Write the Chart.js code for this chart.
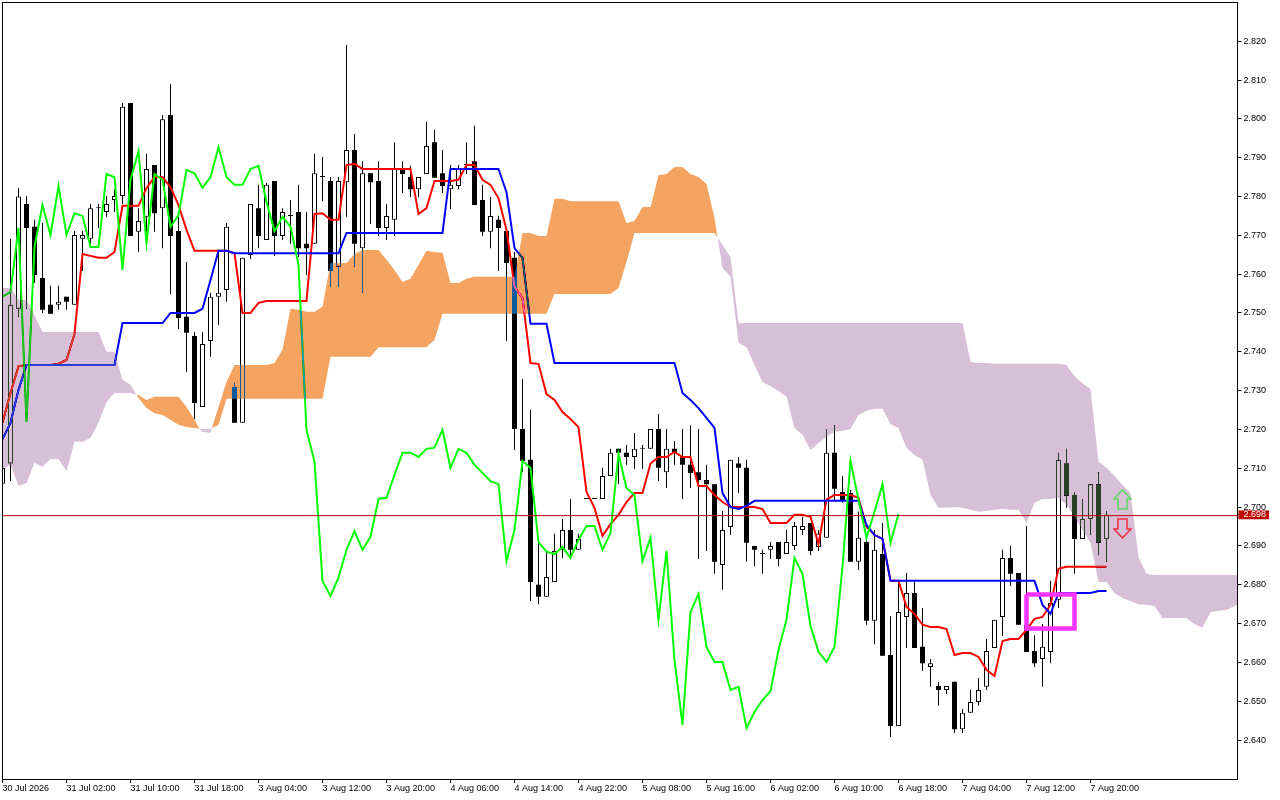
<!DOCTYPE html>
<html>
<head>
<meta charset="utf-8">
<style>
  html, body { margin: 0; padding: 0; background: #fff; }
  canvas { display: block; }
</style>
<script src="https://cdn.jsdelivr.net/npm/chart.js@4"></script>
</head>
<body>
<canvas id="chart-area" width="1280" height="800"></canvas>
<script>
const xLabels = ['30 Jul 2026','31 Jul 02:00','31 Jul 10:00','31 Jul 18:00','3 Aug 04:00','3 Aug 12:00','3 Aug 20:00','4 Aug 06:00','4 Aug 14:00','4 Aug 22:00','5 Aug 08:00','5 Aug 16:00','6 Aug 02:00','6 Aug 10:00','6 Aug 18:00','7 Aug 04:00','7 Aug 12:00','7 Aug 20:00'];
const yTicks = [2.82,2.81,2.80,2.79,2.78,2.77,2.76,2.75,2.74,2.73,2.72,2.71,2.70,2.69,2.68,2.67,2.66,2.65,2.64];
const lastPrice = 2.698;
const lastLine = 2.6978;

const opens = [
2.7060,2.7112,2.7511,2.7781,2.7722,2.7590,2.7521,2.7521,2.7542,2.7521,
2.7691,2.7691,2.7770,2.7760,2.7791,2.7801,2.8041,2.7709,2.7748,2.7881,
2.7770,2.8010,2.7711,2.7490,2.7441,2.7258,2.7428,2.7542,2.7559,2.7309,
2.7217,2.7649,2.7770,2.7688,2.7840,2.7698,2.7750,2.7760,2.7678,2.7678,
2.7850,2.7840,2.7619,2.7837,2.7920,2.7667,2.7860,2.7840,2.7719,2.7740,
2.7868,2.7850,2.7819,2.7858,2.7940,2.7860,2.7819,2.7827,2.7881,2.7891,
2.7791,2.7709,2.7740,2.7711,2.7642,2.7201,2.7122,2.6800,2.6769,2.6807,
2.6890,2.6941,2.6890,2.7021,2.7021,2.7021,2.7080,2.7150,2.7140,2.7129,
2.7150,2.7150,2.7201,2.7090,2.7150,2.7129,2.7109,2.7090,2.7070,2.7059,
2.6851,2.6949,2.7112,2.7101,2.6900,2.6879,2.6890,2.6910,2.6879,2.6900,
2.6941,2.6959,2.6897,2.6921,2.7140,2.7039,2.7036,2.6859,2.6910,2.6707,
2.6879,2.6619,2.6436,2.6717,2.6779,2.6640,2.6588,2.6539,2.6529,2.6550,
2.6428,2.6470,2.6498,2.6537,2.6637,2.6717,2.6869,2.6830,2.6697,2.6629,
2.6609,2.6627,2.6761,2.7112,2.7031,2.6918,2.6969,2.7059,2.6918];
const highs = [
2.7122,2.7691,2.7822,2.7801,2.7740,2.7732,2.7570,2.7570,2.7542,2.7711,
2.7711,2.7781,2.7781,2.7801,2.7819,2.8041,2.8041,2.7770,2.7910,2.7881,
2.8010,2.8090,2.7748,2.7631,2.7451,2.7451,2.7552,2.7662,2.7732,2.7320,
2.7642,2.7781,2.7830,2.7835,2.7840,2.7770,2.7791,2.7830,2.7760,2.7910,
2.7902,2.7850,2.7850,2.8190,2.7961,2.7891,2.7860,2.7891,2.7781,2.7940,
2.7891,2.7879,2.7850,2.7992,2.7971,2.7920,2.7881,2.7881,2.7940,2.7982,
2.7830,2.7799,2.7750,2.7719,2.7657,2.7330,2.7250,2.6908,2.6885,2.6931,
2.6969,2.7021,2.6931,2.7021,2.7021,2.7101,2.7150,2.7150,2.7160,2.7191,
2.7160,2.7201,2.7240,2.7201,2.7170,2.7201,2.7211,2.7201,2.7109,2.7059,
2.6990,2.7122,2.7129,2.7122,2.6900,2.6890,2.6910,2.6910,2.6941,2.6962,
2.6975,2.6959,2.6941,2.7201,2.7211,2.7080,2.7044,2.6988,2.6921,2.6941,
2.6959,2.6719,2.6810,2.6830,2.6810,2.6740,2.6609,2.6550,2.6539,2.6550,
2.6480,2.6529,2.6560,2.6660,2.6710,2.6890,2.6900,2.6830,2.6951,2.6670,
2.6699,2.6810,2.7140,2.7150,2.7039,2.7021,2.7059,2.7090,2.6990];
const lows = [
2.7060,2.7067,2.7490,2.7511,2.7577,2.7500,2.7498,2.7508,2.7508,2.7521,
2.7608,2.7670,2.7719,2.7748,2.7760,2.7781,2.7698,2.7657,2.7709,2.7709,
2.7667,2.7549,2.7459,2.7348,2.7227,2.7258,2.7387,2.7469,2.7529,2.7217,
2.7217,2.7639,2.7667,2.7688,2.7647,2.7688,2.7678,2.7644,2.7598,2.7678,
2.7788,2.7567,2.7567,2.7748,2.7619,2.7552,2.7729,2.7698,2.7688,2.7698,
2.7809,2.7799,2.7799,2.7858,2.7848,2.7809,2.7768,2.7819,2.7858,2.7778,
2.7698,2.7667,2.7608,2.7428,2.7147,2.7090,2.6758,2.6750,2.6769,2.6807,
2.6869,2.6874,2.6890,2.7021,2.7021,2.7021,2.7080,2.7059,2.7109,2.7098,
2.7098,2.7150,2.7067,2.7049,2.7109,2.7021,2.7049,2.6866,2.6887,2.6828,
2.6787,2.6928,2.7036,2.6859,2.6848,2.6828,2.6866,2.6848,2.6879,2.6890,
2.6928,2.6876,2.6887,2.6921,2.7016,2.7011,2.6859,2.6838,2.6697,2.6647,
2.6617,2.6408,2.6436,2.6637,2.6637,2.6578,2.6537,2.6488,2.6519,2.6418,
2.6418,2.6470,2.6488,2.6529,2.6637,2.6668,2.6797,2.6697,2.6627,2.6588,
2.6537,2.6598,2.6740,2.6998,2.6828,2.6918,2.6928,2.6876,2.6859];
const closes = [
2.7101,2.7521,2.7800,2.7719,2.7598,2.7508,2.7498,2.7529,2.7529,2.7701,
2.7701,2.7770,2.7771,2.7781,2.7801,2.8031,2.7698,2.7737,2.7871,2.7757,
2.7999,2.7698,2.7487,2.7449,2.7268,2.7420,2.7542,2.7552,2.7722,2.7217,
2.7642,2.7781,2.7698,2.7830,2.7698,2.7760,2.7750,2.7667,2.7667,2.7860,
2.7850,2.7608,2.7840,2.7920,2.7678,2.7860,2.7837,2.7719,2.7750,2.7871,
2.7858,2.7819,2.7850,2.7930,2.7848,2.7827,2.7830,2.7871,2.7881,2.7778,
2.7709,2.7750,2.7719,2.7629,2.7201,2.7119,2.6807,2.6769,2.6820,2.6887,
2.6941,2.6890,2.6918,2.7021,2.7021,2.7080,2.7140,2.7140,2.7129,2.7150,
2.7150,2.7201,2.7101,2.7150,2.7140,2.7109,2.7088,2.7070,2.7059,2.6859,
2.6941,2.7122,2.7101,2.6908,2.6890,2.6879,2.6900,2.6866,2.6910,2.6951,
2.6951,2.6887,2.6931,2.7140,2.7047,2.7016,2.6859,2.6921,2.6707,2.6890,
2.6617,2.6436,2.6730,2.6779,2.6637,2.6598,2.6598,2.6529,2.6539,2.6428,
2.6470,2.6498,2.6529,2.6629,2.6710,2.6869,2.6828,2.6697,2.6627,2.6598,
2.6640,2.6753,2.7122,2.7029,2.6918,2.6969,2.7059,2.6908,2.6980];

const tenkan = [
2.7217,2.7294,2.7363,2.7366,2.7366,2.7366,2.7366,2.7369,2.7379,2.7446,
2.7652,2.7647,2.7642,2.7642,2.7657,2.7776,2.7776,2.7776,2.7822,2.7850,
2.7850,2.7824,2.7778,2.7714,2.7660,2.7660,2.7660,2.7660,2.7660,2.7654,
2.7500,2.7500,2.7526,2.7531,2.7531,2.7531,2.7531,2.7531,2.7531,2.7755,
2.7757,2.7740,2.7740,2.7881,2.7884,2.7871,2.7871,2.7871,2.7871,2.7871,
2.7871,2.7871,2.7755,2.7770,2.7840,2.7840,2.7840,2.7843,2.7881,2.7881,
2.7843,2.7830,2.7796,2.7714,2.7567,2.7539,2.7371,2.7369,2.7291,2.7276,
2.7245,2.7227,2.7206,2.7039,2.6998,2.6926,2.6956,2.6980,2.7013,2.7036,
2.7036,2.7112,2.7129,2.7129,2.7142,2.7129,2.7129,2.7054,2.7054,2.7031,
2.7013,2.7000,2.7000,2.7000,2.7000,2.6995,2.6959,2.6959,2.6959,2.6980,
2.6980,2.6975,2.6905,2.7019,2.7031,2.7031,2.7031,2.7024,2.6949,2.6928,
2.6918,2.6810,2.6810,2.6743,2.6725,2.6697,2.6691,2.6691,2.6686,2.6619,
2.6624,2.6624,2.6614,2.6581,2.6565,2.6655,2.6660,2.6660,2.6684,2.6712,
2.6717,2.6748,2.6841,2.6846,2.6846,2.6846,2.6846,2.6846,2.6846];
const kijun = [
2.7175,2.7217,2.7302,2.7366,2.7366,2.7366,2.7366,2.7366,2.7366,2.7366,
2.7366,2.7366,2.7366,2.7366,2.7366,2.7474,2.7474,2.7474,2.7474,2.7474,
2.7474,2.7500,2.7500,2.7500,2.7500,2.7511,2.7585,2.7660,2.7660,2.7654,
2.7654,2.7654,2.7654,2.7654,2.7654,2.7654,2.7654,2.7654,2.7654,2.7654,
2.7654,2.7654,2.7654,2.7706,2.7706,2.7706,2.7706,2.7706,2.7706,2.7706,
2.7706,2.7706,2.7706,2.7706,2.7706,2.7706,2.7871,2.7871,2.7871,2.7871,
2.7871,2.7871,2.7871,2.7811,2.7667,2.7642,2.7472,2.7472,2.7472,2.7371,
2.7371,2.7371,2.7371,2.7371,2.7371,2.7371,2.7371,2.7371,2.7371,2.7371,
2.7371,2.7371,2.7371,2.7371,2.7371,2.7294,2.7276,2.7255,2.7230,2.7204,
2.7036,2.7000,2.6995,2.7003,2.7016,2.7016,2.7016,2.7016,2.7016,2.7016,
2.7016,2.7016,2.7016,2.7016,2.7016,2.7016,2.7016,2.7016,2.6954,2.6928,
2.6918,2.6810,2.6810,2.6810,2.6810,2.6810,2.6810,2.6810,2.6810,2.6810,
2.6810,2.6810,2.6810,2.6810,2.6810,2.6810,2.6810,2.6810,2.6810,2.6810,
2.6748,2.6725,2.6779,2.6779,2.6779,2.6779,2.6779,2.6784,2.6784];
const chikou = [
2.7542,2.7554,2.7719,2.7219,2.7670,2.7778,2.7701,2.7827,2.7701,2.7757,
2.7750,2.7670,2.7670,2.7858,2.7850,2.7611,2.7843,2.7917,2.7680,2.7858,
2.7843,2.7722,2.7752,2.7868,2.7860,2.7822,2.7850,2.7927,2.7850,2.7830,
2.7830,2.7871,2.7879,2.7786,2.7711,2.7748,2.7722,2.7624,2.7199,2.7117,
2.6810,2.6771,2.6818,2.6890,2.6938,2.6890,2.6923,2.7021,2.7024,2.7083,
2.7140,2.7140,2.7129,2.7150,2.7153,2.7199,2.7101,2.7150,2.7140,2.7109,
2.7088,2.7067,2.7059,2.6861,2.6941,2.7119,2.7101,2.6910,2.6885,2.6879,
2.6897,2.6869,2.6916,2.6951,2.6951,2.6890,2.6933,2.7137,2.7049,2.7031,
2.6861,2.6921,2.6710,2.6887,2.6606,2.6439,2.6730,2.6776,2.6640,2.6601,
2.6601,2.6529,2.6537,2.6431,2.6472,2.6503,2.6526,2.6632,2.6710,2.6869,
2.6828,2.6694,2.6627,2.6601,2.6640,2.6846,2.7119,2.7019,2.6921,2.6988,
2.7059,2.6908,2.6982];
const spanA = [
2.7096,2.7109,2.7054,2.7062,2.7114,2.7104,2.7124,2.7124,2.7093,2.7168,
2.7168,2.7178,2.7217,2.7271,2.7294,2.7294,2.7294,2.7289,2.7276,2.7284,
2.7284,2.7284,2.7284,2.7258,2.7225,2.7194,2.7191,2.7258,2.7322,2.7366,
2.7366,2.7366,2.7366,2.7366,2.7371,2.7405,2.7511,2.7508,2.7503,2.7503,
2.7516,2.7629,2.7629,2.7629,2.7652,2.7662,2.7662,2.7662,2.7637,2.7611,
2.7580,2.7588,2.7624,2.7660,2.7657,2.7655,2.7577,2.7577,2.7588,2.7593,
2.7593,2.7593,2.7593,2.7593,2.7593,2.7706,2.7706,2.7698,2.7698,2.7794,
2.7794,2.7788,2.7788,2.7788,2.7788,2.7788,2.7788,2.7788,2.7732,2.7737,
2.7773,2.7773,2.7855,2.7858,2.7876,2.7876,2.7858,2.7850,2.7832,2.7745,
2.7616,2.7593,2.7423,2.7412,2.7366,2.7322,2.7312,2.7299,2.7284,2.7204,
2.7186,2.7147,2.7165,2.7181,2.7194,2.7196,2.7201,2.7237,2.7248,2.7253,
2.7253,2.7214,2.7204,2.7153,2.7134,2.7122,2.7031,2.6998,2.6998,2.7000,
2.6998,2.6993,2.6988,2.6990,2.6993,2.6995,2.6993,2.6993,2.6959,2.7011,
2.7021,2.7021,2.7024,2.7006,2.6975,2.6941,2.6908,2.6807,2.6807,2.6779,
2.6766,2.6758,2.6750,2.6748,2.6745,2.6714,2.6714,2.6714,2.6714,2.6699,
2.6689,2.6730,2.6733,2.6735,2.6745,2.6753];
const spanB = [
2.7564,2.7564,2.7534,2.7534,2.7495,2.7451,2.7451,2.7451,2.7451,2.7451,
2.7451,2.7451,2.7451,2.7400,2.7400,2.7328,2.7315,2.7281,2.7255,2.7242,
2.7237,2.7225,2.7212,2.7206,2.7204,2.7201,2.7201,2.7212,2.7279,2.7279,
2.7279,2.7279,2.7279,2.7279,2.7279,2.7279,2.7279,2.7279,2.7279,2.7279,
2.7279,2.7387,2.7387,2.7387,2.7387,2.7387,2.7387,2.7412,2.7412,2.7412,
2.7412,2.7412,2.7412,2.7412,2.7431,2.7498,2.7498,2.7498,2.7498,2.7498,
2.7498,2.7498,2.7498,2.7498,2.7498,2.7498,2.7498,2.7498,2.7498,2.7549,
2.7549,2.7549,2.7549,2.7549,2.7549,2.7549,2.7549,2.7564,2.7631,2.7706,
2.7706,2.7706,2.7706,2.7706,2.7706,2.7706,2.7706,2.7706,2.7706,2.7706,
2.7675,2.7644,2.7474,2.7474,2.7474,2.7474,2.7474,2.7474,2.7474,2.7474,
2.7474,2.7474,2.7474,2.7474,2.7474,2.7474,2.7474,2.7474,2.7474,2.7474,
2.7474,2.7474,2.7474,2.7474,2.7474,2.7474,2.7474,2.7474,2.7474,2.7474,
2.7474,2.7374,2.7371,2.7371,2.7369,2.7369,2.7369,2.7369,2.7369,2.7369,
2.7369,2.7369,2.7369,2.7366,2.7337,2.7319,2.7304,2.7117,2.7101,2.7080,
2.7057,2.7036,2.6871,2.6828,2.6825,2.6825,2.6825,2.6825,2.6825,2.6825,
2.6825,2.6825,2.6825,2.6825,2.6825,2.6825];
// where the two spans cross
const crossBars = [16.73, 24.73, 26.18, 89.39];
const crossPrices = [2.7290, 2.7197, 2.7204, 2.7694];

// marked box around the cross, and the two arrows
const boxBars = [128, 134, 134, 128, 128];
const boxPrices = [2.6775, 2.6775, 2.6687, 2.6687, 2.6775];
const upArrow = [{x: 140, y: 2.7020}];
const downArrow = [{x: 140, y: 2.6945}];

const barStep = 8;
const xMax = 154.375;

function toPoints(list) {
  return list.map((v, i) => ({x: i, y: v}));
}

// spanA split in two: only the stretch where it is above (or below) spanB, closed at the crossings
function cloudEdge(above) {
  const pts = [];
  spanA.forEach((v, i) => {
    pts.push({x: i, y: (v > spanB[i]) === above ? v : null});
    crossBars.forEach((c, k) => {
      if (c > i && c < i + 1) pts.push({x: c, y: crossPrices[k]});
    });
  });
  return pts;
}

function arrowImage(up, color) {
  const c = document.createElement('canvas');
  c.width = 19;
  c.height = 21;
  const g = c.getContext('2d');
  const pts = up
    ? [[9.5,1],[18,10],[14,10],[14,20],[5,20],[5,10],[1,10]]
    : [[9.5,20],[18,11],[14,11],[14,1],[5,1],[5,11],[1,11]];
  g.beginPath();
  pts.forEach((p, i) => i ? g.lineTo(p[0], p[1]) : g.moveTo(p[0], p[1]));
  g.closePath();
  g.strokeStyle = color;
  g.lineWidth = 1.6;
  g.stroke();
  return c;
}

const lineStyle = {type: 'line', pointRadius: 0, borderWidth: 2, tension: 0, fill: false};
const barStyle = {type: 'bar', grouped: false, inflateAmount: 0, borderSkipped: false};

const wicks = highs.map((h, i) => ({x: i, y: [lows[i], h]}));
const bullBodies = [];
const bearBodies = [];
opens.forEach((o, i) => {
  if (closes[i] >= o) bullBodies.push({x: i, y: [o, closes[i]]});
  else bearBodies.push({x: i, y: [closes[i], o]});
});

const datasets = [
  Object.assign({}, barStyle, {label: 'wick', data: wicks, barThickness: 1, backgroundColor: '#000', order: 11}),
  Object.assign({}, barStyle, {label: 'bull', data: bullBodies, barThickness: 5, minBarLength: 1, backgroundColor: '#fff', borderColor: '#000', borderWidth: 1, order: 10}),
  Object.assign({}, barStyle, {label: 'bear', data: bearBodies, barThickness: 5, minBarLength: 1, backgroundColor: '#000', order: 9}),
  Object.assign({}, lineStyle, {label: 'tenkan', data: toPoints(tenkan), borderColor: '#ff0000', order: 8}),
  Object.assign({}, lineStyle, {label: 'kijun', data: toPoints(kijun), borderColor: '#0000ff', order: 7}),
  Object.assign({}, lineStyle, {label: 'chikou', data: toPoints(chikou), borderColor: '#00ff00', order: 6}),
  Object.assign({}, lineStyle, {label: 'spanB', data: toPoints(spanB), borderWidth: 0, order: 5}),
  // colours are the inverse of sandy brown / thistle, the cloud is blended over everything below it
  Object.assign({}, lineStyle, {label: 'spanA up', data: cloudEdge(true), borderWidth: 0, order: 4, fill: {target: 6, above: '#0b5b9f', below: '#0b5b9f'}}),
  Object.assign({}, lineStyle, {label: 'spanA down', data: cloudEdge(false), borderWidth: 0, order: 3, fill: {target: 6, above: '#274027', below: '#274027'}}),
  Object.assign({}, lineStyle, {label: 'last', data: [{x: 0, y: lastLine}, {x: xMax, y: lastLine}], borderColor: '#c00000', borderWidth: 1, order: 2}),
  Object.assign({}, lineStyle, {label: 'box', data: boxBars.map((b, i) => ({x: b, y: boxPrices[i]})), borderColor: '#ff33ff', borderWidth: 4.5, borderJoinStyle: 'miter', order: 1}),
  {type: 'line', label: 'up', data: upArrow, showLine: false, pointStyle: arrowImage(true, '#5fd85f'), order: 0},
  {type: 'line', label: 'down', data: downArrow, showLine: false, pointStyle: arrowImage(false, '#f03040'), order: 0}
];

const cloudBlend = {
  id: 'cloudBlend',
  beforeDraw(chart) {
    chart.ctx.save();
    chart.ctx.fillStyle = '#fff';
    chart.ctx.fillRect(0, 0, chart.width, chart.height);
    chart.ctx.restore();
  },
  // filler paints the cloud in its own beforeDatasetDraw, so switch right after spanB
  afterDatasetDraw(chart, args) {
    if (args.index === 6) chart.ctx.globalCompositeOperation = 'difference';
    if (args.index === 8) chart.ctx.globalCompositeOperation = 'source-over';
  },
  afterDraw(chart) {
    const ctx = chart.ctx;
    ctx.save();
    ctx.strokeStyle = '#000';
    ctx.lineWidth = 1;
    ctx.strokeRect(2.5, 2.5, 1235, 777);
    ctx.restore();
  }
};

new Chart(document.getElementById('chart-area').getContext('2d'), {
  type: 'bar',
  data: {datasets: datasets},
  plugins: [cloudBlend],
  options: {
    responsive: false,
    animation: false,
    devicePixelRatio: 1,
    layout: {autoPadding: false, padding: {left: 2.5, top: 2, right: 0, bottom: 0}},
    plugins: {legend: {display: false}, tooltip: {enabled: false}},
    scales: {
      x: {
        type: 'linear',
        offset: false,
        min: 0,
        max: xMax,
        border: {display: false},
        grid: {offset: false, drawOnChartArea: false, tickLength: 4, color: '#000'},
        ticks: {
          autoSkip: false,
          maxRotation: 0,
          align: 'start',
          padding: 0,
          color: '#000',
          font: {family: 'Liberation Sans', size: 9},
          callback: v => xLabels[v / barStep]
        },
        afterBuildTicks: s => { s.ticks = xLabels.map((t, i) => ({value: i * barStep})); },
        afterFit: s => { s.height = 21; s.paddingLeft = 0; s.paddingRight = 0; }
      },
      y: {
        position: 'right',
        min: 2.62996,
        max: 2.83010,
        border: {display: false},
        grid: {drawOnChartArea: false, tickLength: 4, color: '#000'},
        ticks: {
          autoSkip: false,
          padding: 2,
          font: {family: 'Liberation Sans', size: 9},
          color: c => c.tick.value === lastPrice ? '#fff' : '#000',
          showLabelBackdrop: c => c.tick.value === lastPrice,
          backdropColor: '#c00000',
          backdropPadding: {left: 5, right: 3, top: -1, bottom: -1},
          callback: v => v.toFixed(3)
        },
        afterBuildTicks: s => { s.ticks = yTicks.concat(lastPrice).map(v => ({value: v})); },
        afterFit: s => { s.width = 42.5; s.paddingTop = 0; s.paddingBottom = 0; }
      }
    }
  }
});
</script>
</body>
</html>
